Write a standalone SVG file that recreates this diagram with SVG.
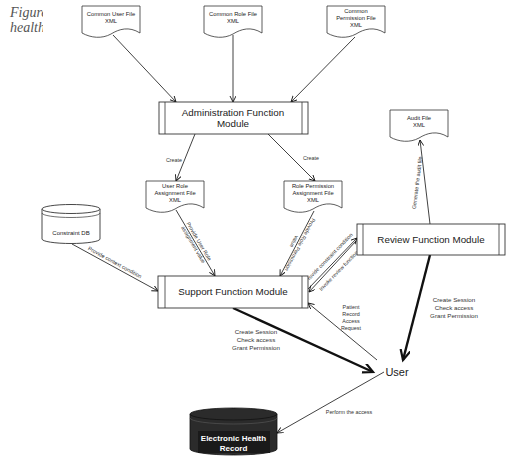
<svg xmlns="http://www.w3.org/2000/svg" width="512" height="470" viewBox="0 0 512 470">
<defs>
<style>
.doc{fill:#fff;stroke:#333;stroke-width:0.8}
.box{fill:#fff;stroke:#333;stroke-width:0.9}
.inner{stroke:#333;stroke-width:0.8}
.t{font-family:"Liberation Sans",Arial,sans-serif;fill:#222;text-anchor:middle}
.ds{font-size:5.8px}
.lb{font-size:5.4px;fill:#333}
.mod{font-size:9.8px}
.cap{font-family:"Liberation Serif","Times New Roman",serif;font-style:italic;font-size:14px;fill:#555}
.c{fill:none;stroke:#111;stroke-width:0.8}
.k{fill:none;stroke:#111;stroke-width:2.4}
</style>
<marker id="a" markerWidth="8" markerHeight="8" refX="6" refY="3" orient="auto" markerUnits="userSpaceOnUse">
<path d="M0,0 L6,3 L0,6" fill="none" stroke="#111" stroke-width="0.9"/>
</marker>
<marker id="A" markerWidth="14" markerHeight="14" refX="10" refY="5" orient="auto" markerUnits="userSpaceOnUse">
<path d="M0,0 L10,5 L0,10" fill="none" stroke="#111" stroke-width="2.2"/>
</marker>
<path id="docshape" d="M0,0 H58 V27 C47,20 37,23 29,28 C20,33 9,32 0,27 Z"/>
<clipPath id="capclip"><rect x="0" y="0" width="43" height="40"/></clipPath>
</defs>
<rect width="512" height="470" fill="#fff"/>

<g id="caption" clip-path="url(#capclip)">
<text class="cap" x="10" y="17">Figure</text>
<text class="cap" x="10" y="32">health</text>
</g>

<g id="connectors">
<line class="c" x1="113" y1="35" x2="176" y2="102" marker-end="url(#a)"/>
<line class="c" x1="233" y1="35" x2="233" y2="102" marker-end="url(#a)"/>
<line class="c" x1="355" y1="37" x2="291" y2="102" marker-end="url(#a)"/>
<line class="c" x1="195" y1="134" x2="176" y2="181" marker-end="url(#a)"/>
<text class="t lb" x="174" y="162">Create</text>
<line class="c" x1="268" y1="134" x2="315" y2="181" marker-end="url(#a)"/>
<text class="t lb" x="311" y="160">Create</text>
<line class="c" x1="176" y1="210" x2="215" y2="276" marker-end="url(#a)"/>
<g transform="translate(196,243) rotate(59.4)">
<text class="t lb" x="0" y="-1.5">Provide User Role</text>
<text class="t lb" x="0" y="5">assignment value</text>
</g>
<line class="c" x1="314" y1="211" x2="280" y2="276" marker-end="url(#a)"/>
<g transform="translate(297,243) rotate(118)">
<text class="t lb" x="0" y="-1.5">Provide Role Permission</text>
<text class="t lb" x="0" y="5">value</text>
</g>
<line class="c" x1="72" y1="244" x2="158" y2="291" marker-end="url(#a)"/>
<text class="t lb" transform="translate(114,264) rotate(28.6)">Provide context condition</text>
<line class="c" x1="430" y1="224" x2="420" y2="140" marker-end="url(#a)"/>
<text class="t lb" transform="translate(419,183) rotate(-83)">Generate the audit file</text>
<line class="c" x1="308" y1="289" x2="357" y2="238" marker-end="url(#a)"/>
<line class="c" x1="356" y1="241" x2="309" y2="292" marker-end="url(#a)"/>
<text class="t lb" transform="translate(330,259) rotate(-46)">Provide constraint condition</text>
<text class="t lb" transform="translate(340,272) rotate(-46)">Invoke review function</text>
<line class="k" x1="430" y1="255" x2="403" y2="360" marker-end="url(#A)"/>
<text class="t lb" x="454" y="302" style="font-size:6.2px">Create Session</text>
<text class="t lb" x="454" y="310" style="font-size:6.2px">Check access</text>
<text class="t lb" x="454" y="318" style="font-size:6.2px">Grant Permission</text>
<line class="k" x1="233" y1="308" x2="373" y2="372" marker-end="url(#A)"/>
<text class="t lb" x="256" y="334" style="font-size:6.2px">Create Session</text>
<text class="t lb" x="256" y="342" style="font-size:6.2px">Check access</text>
<text class="t lb" x="256" y="350" style="font-size:6.2px">Grant Permission</text>
<line class="c" x1="377" y1="360" x2="308" y2="303" marker-end="url(#a)"/>
<text class="t lb" x="351" y="309">Patient</text>
<text class="t lb" x="351" y="316">Record</text>
<text class="t lb" x="351" y="323">Access</text>
<text class="t lb" x="351" y="330">Request</text>
<line class="c" x1="384" y1="372" x2="277" y2="433" marker-end="url(#a)"/>
<text class="t lb" x="349" y="414">Perform the access</text>
</g>

<g id="common-user-file" transform="translate(82,6)">
<use href="#docshape" class="doc"/>
<text class="t ds" x="29" y="10">Common User File</text>
<text class="t ds" x="29" y="17">XML</text>
</g>
<g id="common-role-file" transform="translate(204,6)">
<use href="#docshape" class="doc"/>
<text class="t ds" x="29" y="10">Common Role File</text>
<text class="t ds" x="29" y="17">XML</text>
</g>
<g id="common-permission-file" transform="translate(327,6)">
<use href="#docshape" class="doc"/>
<text class="t ds" x="29" y="7">Common</text>
<text class="t ds" x="29" y="14">Permission File</text>
<text class="t ds" x="29" y="21">XML</text>
</g>

<g id="admin-module">
<rect class="box" x="159" y="102" width="149" height="32"/>
<line class="inner" x1="165" y1="102" x2="165" y2="134"/>
<line class="inner" x1="302" y1="102" x2="302" y2="134"/>
<text class="t mod" x="233" y="116">Administration Function</text>
<text class="t mod" x="233" y="127">Module</text>
</g>

<g id="audit-file" transform="translate(390,110)">
<use href="#docshape" class="doc"/>
<text class="t ds" x="29" y="10">Audit File</text>
<text class="t ds" x="29" y="17">XML</text>
</g>

<g id="user-role-file" transform="translate(146,181)">
<use href="#docshape" class="doc"/>
<text class="t ds" x="29" y="7">User Role</text>
<text class="t ds" x="29" y="14">Assignment File</text>
<text class="t ds" x="29" y="21">XML</text>
</g>
<g id="role-permission-file" transform="translate(284,181)">
<use href="#docshape" class="doc"/>
<text class="t ds" x="29" y="7">Role Permission</text>
<text class="t ds" x="29" y="14">Assignment File</text>
<text class="t ds" x="29" y="21">XML</text>
</g>

<g id="constraint-db">
<path class="box" d="M42,209 V239 A29,4.5 0 0 0 100,239 V209"/>
<ellipse class="box" cx="71" cy="209" rx="29" ry="4.5"/>
<path d="M42,213 A29,4.5 0 0 0 100,213" fill="none" stroke="#333" stroke-width="0.7"/>
<text class="t ds" x="71" y="235" style="font-size:6px">Constraint DB</text>
</g>

<g id="review-module">
<rect class="box" x="357" y="224" width="148" height="31"/>
<line class="inner" x1="363" y1="224" x2="363" y2="255"/>
<line class="inner" x1="499" y1="224" x2="499" y2="255"/>
<text class="t mod" x="431" y="243">Review Function Module</text>
</g>

<g id="support-module">
<rect class="box" x="158" y="276" width="150" height="32"/>
<line class="inner" x1="165" y1="276" x2="165" y2="308"/>
<line class="inner" x1="302" y1="276" x2="302" y2="308"/>
<text class="t mod" x="233" y="295">Support Function Module</text>
</g>

<g id="user">
<text class="t" x="397" y="376" style="font-size:11px">User</text>
</g>

<g id="ehr">
<path d="M190,414 V449 A43.5,6 0 0 0 277,449 V414" fill="#2b2b2b" stroke="#111" stroke-width="0.8"/>
<ellipse cx="233.5" cy="414" rx="43.5" ry="6" fill="#2b2b2b" stroke="#111" stroke-width="0.8"/>
<path d="M190,418 A43.5,6 0 0 0 277,418" fill="none" stroke="#555" stroke-width="0.7"/>
<rect x="198" y="431" width="72" height="22" fill="#1a1a1a"/>
<text class="t" x="233.5" y="441" style="font-size:8px;font-weight:bold;fill:#fff">Electronic Health</text>
<text class="t" x="233.5" y="451" style="font-size:8px;font-weight:bold;fill:#fff">Record</text>
</g>
</svg>
